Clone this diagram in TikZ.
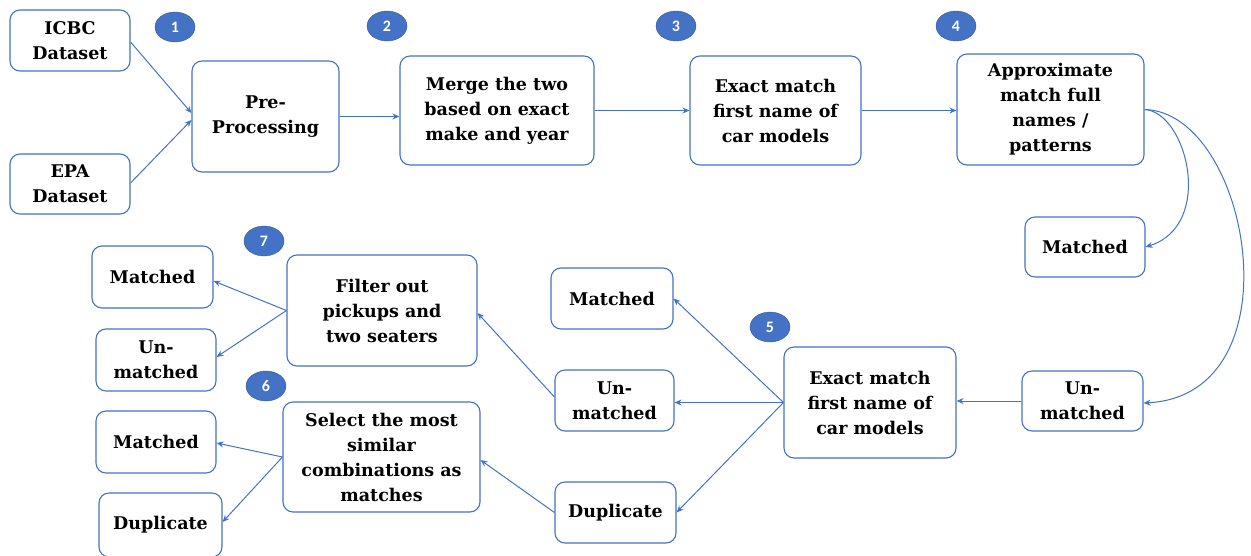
\documentclass[tikz,border=0pt]{standalone}
\usepackage{fontspec}
\setmainfont{DejaVu Serif}
\newfontfamily\badgefont{Carlito}
\usetikzlibrary{arrows.meta,shapes.geometric}
\definecolor{mblue}{HTML}{4472C4}
\tikzset{
  box/.style={draw=mblue, line width=1.1pt, rounded corners=10pt, align=center,
    font=\fontsize{17.5}{25}\selectfont\bfseries, inner sep=0pt},
  badge/.style={ellipse, fill=mblue, draw=mblue!80!black, line width=0.4pt,
    minimum width=40pt, minimum height=30pt, inner sep=0pt,
    text=white, font=\badgefont\fontsize{16}{16}\selectfont\bfseries},
  link/.style={draw=mblue, line width=1pt, -{Stealth[length=7pt,width=6pt]}},
}
\begin{document}
\begin{tikzpicture}[x=1pt,y=-1pt]
\useasboundingbox (0,0) rectangle (1251,555);
% boxes
\node[box, minimum width=120pt, minimum height=61pt] (icbc) at (70,40.5) {ICBC\\Dataset};
\node[box, minimum width=120pt, minimum height=60pt] (epa) at (70,184) {EPA\\Dataset};
\node[box, minimum width=147pt, minimum height=111pt] (pre) at (265.5,116.5) {Pre-\\Processing};
\node[box, minimum width=194pt, minimum height=109pt] (merge) at (497,110.5) {Merge the two\\based on exact\\make and year};
\node[box, minimum width=171pt, minimum height=109pt] (ex3) at (775.5,110.5) {Exact match\\first name of\\car models};
\node[box, minimum width=187pt, minimum height=111pt] (approx) at (1050.5,109.5) {Approximate\\match full\\names /\\patterns};
\node[box, minimum width=120pt, minimum height=60pt] (mr) at (1085,247) {Matched};
\node[box, minimum width=121pt, minimum height=60pt] (ur) at (1082.5,401) {Un-\\matched};
\node[box, minimum width=172pt, minimum height=111pt] (ex5) at (870,402.5) {Exact match\\first name of\\car models};
\node[box, minimum width=122pt, minimum height=61pt] (mm) at (612,298.5) {Matched};
\node[box, minimum width=119pt, minimum height=61pt] (um) at (614.5,400.5) {Un-\\matched};
\node[box, minimum width=121pt, minimum height=61pt] (dm) at (615.5,512.5) {Duplicate};
\node[box, minimum width=190pt, minimum height=111pt] (filt) at (382,310.5) {Filter out\\pickups and\\two seaters};
\node[box, minimum width=121pt, minimum height=62pt] (ml1) at (152.5,277) {Matched};
\node[box, minimum width=120pt, minimum height=62pt] (ul) at (156,360) {Un-\\matched};
\node[box, minimum width=197pt, minimum height=110pt] (sel) at (381.5,457) {Select the most\\similar\\combinations as\\matches};
\node[box, minimum width=120pt, minimum height=62pt] (ml2) at (156,442) {Matched};
\node[box, minimum width=123pt, minimum height=64pt] (dl) at (160.5,525) {Duplicate};
% badges
\node[badge] (b1) at (175,27) {1};
\node[badge] (b2) at (387,26) {2};
\node[badge] (b3) at (676,26) {3};
\node[badge] (b4) at (956,26) {4};
\node[badge] (b5) at (770,327) {5};
\node[badge] (b6) at (266,386) {6};
\node[badge] (b7) at (264,241) {7};
% connectors
\draw[link] (icbc.east |- 0,42) -- (pre.west |- 0,113);
\draw[link] (epa.east |- 0,183) -- (pre.west |- 0,120);
\draw[link] (pre.east) -- (merge.west |- pre.east);
\draw[link] (merge.east) -- (ex3.west);
\draw[link] (ex3.east) -- (approx.west |- ex3.east);
\draw[link] (approx.east) .. controls (1187,112) and (1215,225) .. (mr.east);
\draw[link] (approx.east) .. controls (1250,112) and (1300,395) .. (ur.east |- 0,403);
\draw[link] (ur.west) -- (ex5.east |- ur.west);
\draw[link] (ex5.west) -- (mm.east);
\draw[link] (ex5.west) -- (um.east |- ex5.west);
\draw[link] (ex5.west) -- (dm.east);
\draw[link] (um.west |- 0,397) -- (filt.east |- 0,313);
\draw[link] (dm.west) -- (sel.east |- 0,460);
\draw[link] (filt.west) -- (ml1.east |- 0,281);
\draw[link] (filt.west) -- (ul.east |- 0,357);
\draw[link] (sel.west) -- (ml2.east |- 0,443);
\draw[link] (sel.west) -- (dl.east |- 0,522);
\end{tikzpicture}
\end{document}
